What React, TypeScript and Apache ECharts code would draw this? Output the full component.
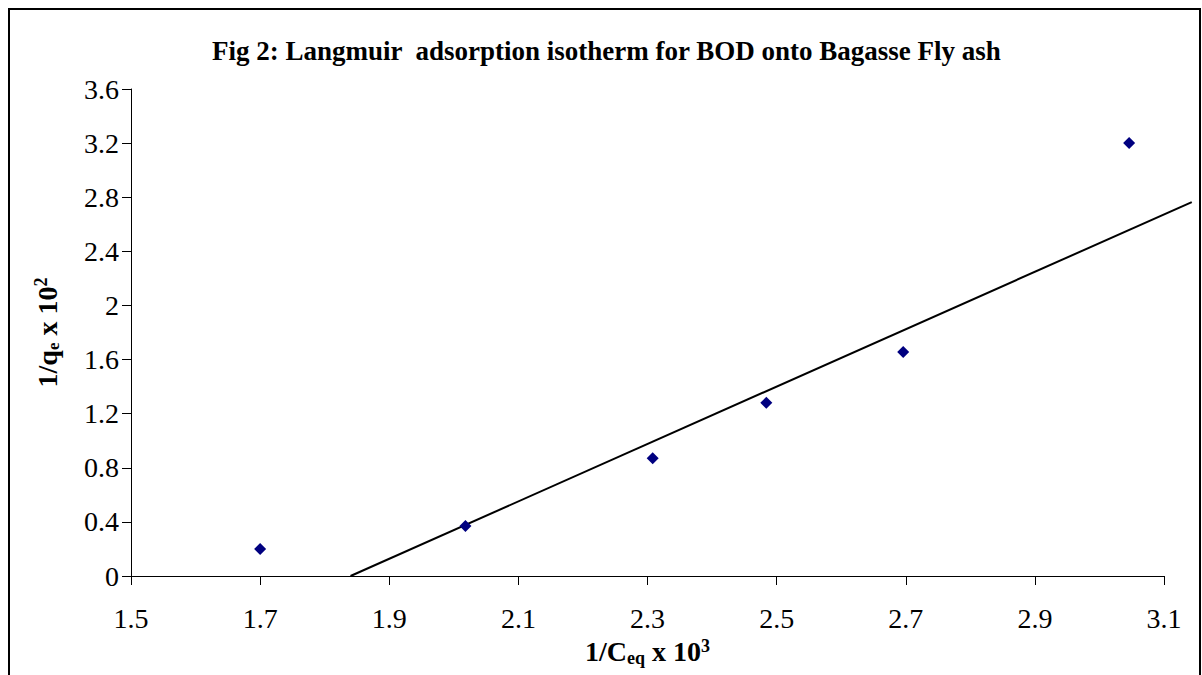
import React, { useEffect, useRef } from "react";
import * as echarts from "echarts";

const titleText = "Fig 2: Langmuir  adsorption isotherm for BOD onto Bagasse Fly ash";
const pointsX = [1.7, 2.018, 2.308, 2.484, 2.696, 3.046];
const pointsY = [0.2, 0.37, 0.87, 1.28, 1.655, 3.2];
const trendX = [1.84, 3.143];
const trendY = [0, 2.764];
const xMin = 1.5;
const xMax = 3.1;
const xStep = 0.2;
const yMin = 0;
const yMax = 3.6;
const yStep = 0.4;

const FONT = "'Liberation Serif', 'Times New Roman', serif";
const W = 1202;
const H = 675;
const GRID_LEFT = 131;
const GRID_RIGHT = 38;
const GRID_TOP = 89;
const GRID_BOTTOM = 99;

export default function App() {
  const ref = useRef<HTMLDivElement>(null);
  useEffect(() => {
    if (!ref.current) return;
    const chart = echarts.init(ref.current, undefined, { renderer: "svg" });
    const scatterData = pointsX.map((x, i) => [x, pointsY[i]]);
    const trendData = trendX.map((x, i) => [x, trendY[i]]);
    // second (invisible) grid with the same pixel scale, extended so the trendline
    // can run past the last tick like in the original
    const pxPerUnit = (W - GRID_LEFT - GRID_RIGHT) / (xMax - xMin);
    const trendMax = Math.max(...trendX);
    const grid2Right = W - GRID_LEFT - (trendMax - xMin) * pxPerUnit;
    const richName = (subSize: number, subLH: number) => ({
      m: { fontFamily: FONT, fontSize: 28, fontWeight: "bold", lineHeight: 30, color: "#000" },
      sub: { fontFamily: FONT, fontSize: subSize, fontWeight: "bold", lineHeight: subLH, verticalAlign: "bottom", color: "#000" },
      sup: { fontFamily: FONT, fontSize: 18, fontWeight: "bold", lineHeight: 16, verticalAlign: "top", color: "#000" },
    });
    chart.setOption({
      animation: false,
      backgroundColor: "#fff",
      title: {
        text: titleText,
        left: 207,
        top: 32,
        textStyle: { fontFamily: FONT, fontSize: 27, fontWeight: "bold", color: "#000" },
      },
      grid: [
        {
          left: GRID_LEFT, right: GRID_RIGHT, top: GRID_TOP, bottom: GRID_BOTTOM,
          containLabel: false, outerBoundsMode: "none",
        },
        {
          left: GRID_LEFT, right: grid2Right, top: GRID_TOP, bottom: GRID_BOTTOM,
          containLabel: false, outerBoundsMode: "none",
        },
      ],
      xAxis: [
        {
          type: "value",
          gridIndex: 0,
          min: xMin,
          max: xMax,
          interval: xStep,
          name: "{m|1/C}{sub|eq}{m| x 10}{sup|3}",
          nameLocation: "middle",
          nameGap: 53,
          nameTextStyle: { fontFamily: FONT, color: "#000", rich: richName(18, 12) },
          axisLine: { show: true, lineStyle: { color: "#000", width: 1 } },
          axisTick: { show: true, inside: false, length: 9, lineStyle: { color: "#000" } },
          axisLabel: {
            fontFamily: FONT,
            fontSize: 28,
            color: "#000",
            margin: 28,
            formatter: (v: number) => v.toFixed(1),
          },
          splitLine: { show: false },
        },
        {
          type: "value",
          gridIndex: 1,
          min: xMin,
          max: trendMax,
          show: false,
        },
      ],
      yAxis: [
        {
          type: "value",
          gridIndex: 0,
          min: yMin,
          max: yMax,
          interval: yStep,
          name: "{m|1/q}{sub|e}{m| x 10}{sup|2}",
          nameLocation: "middle",
          nameRotate: 90,
          nameGap: 69,
          nameTextStyle: { fontFamily: FONT, color: "#000", rich: richName(17, 16) },
          axisLine: { show: true, lineStyle: { color: "#000", width: 1 } },
          axisTick: { show: true, inside: false, length: 9, lineStyle: { color: "#000" } },
          axisLabel: {
            fontFamily: FONT,
            fontSize: 28,
            color: "#000",
            margin: 12,
            formatter: (v: number) => String(Math.round(v * 10) / 10),
          },
          splitLine: { show: false },
        },
        {
          type: "value",
          gridIndex: 1,
          min: yMin,
          max: yMax,
          show: false,
        },
      ],
      graphic: [
        {
          type: "rect",
          shape: { x: 9, y: 9, width: 1191, height: 720 },
          style: { fill: "none", stroke: "#000", lineWidth: 2 },
          silent: true,
        },
      ],
      series: [
        {
          type: "line",
          xAxisIndex: 1,
          yAxisIndex: 1,
          data: trendData,
          showSymbol: false,
          symbol: "none",
          lineStyle: { color: "#000", width: 2 },
          z: 2,
        },
        {
          type: "scatter",
          xAxisIndex: 0,
          yAxisIndex: 0,
          data: scatterData,
          symbol: "diamond",
          symbolSize: 12,
          itemStyle: { color: "#000080", opacity: 1 },
          z: 3,
        },
      ],
    });
    return () => chart.dispose();
  }, []);
  return (
    <div
      ref={ref}
      style={{ position: "fixed", left: 0, top: 0, width: W, height: H, background: "#fff" }}
    />
  );
}
